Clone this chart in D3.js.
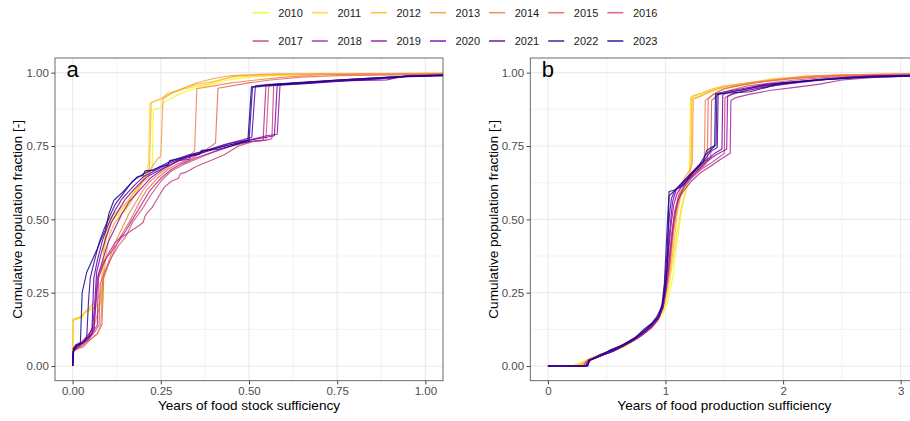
<!DOCTYPE html>
<html><head><meta charset="utf-8">
<script src="https://cdn.jsdelivr.net/npm/d3@7"></script>
<style>body{margin:0;background:#fff}svg{display:block;font-family:"Liberation Sans",Arial,sans-serif}</style>
</head><body><svg id="c" width="910" height="421"></svg>
<script>
const years = [2010,2011,2012,2013,2014,2015,2016,2017,2018,2019,2020,2021,2022,2023];
const yTicks = [0,0.25,0.5,0.75,1];
const xTicksA = [0,0.25,0.5,0.75,1];
const xTicksB = [0,1,2,3];
const yTitle = "Cumulative population fraction [-]";
const xTitleA = "Years of food stock sufficiency";
const xTitleB = "Years of food production sufficiency";

// panel a: years of food stock sufficiency -> cumulative population fraction
const stockSeries = [
 [[0,0],[0.001,0.155],[0.012,0.16],[0.027,0.165],[0.033,0.18],[0.05,0.19],[0.07,0.2],[0.086,0.22],[0.09,0.43],[0.1,0.47],[0.115,0.5],[0.135,0.52],[0.15,0.525],[0.155,0.55],[0.16,0.57],[0.19,0.62],[0.21,0.655],[0.226,0.675],[0.229,0.875],[0.25,0.88],[0.26,0.9],[0.29,0.92],[0.33,0.94],[0.38,0.955],[0.44,0.975],[0.5,0.985],[0.6,0.992],[0.8,0.996],[1.1,0.998]],
 [[0,0],[0.001,0.16],[0.015,0.165],[0.028,0.17],[0.035,0.185],[0.06,0.2],[0.082,0.215],[0.085,0.3],[0.09,0.4],[0.1,0.46],[0.108,0.5],[0.13,0.52],[0.15,0.55],[0.18,0.6],[0.205,0.645],[0.215,0.69],[0.219,0.895],[0.24,0.905],[0.28,0.93],[0.32,0.945],[0.38,0.96],[0.45,0.985],[0.55,0.99],[0.7,0.995],[1.1,0.998]],
 [[0,0],[0.001,0.155],[0.01,0.16],[0.025,0.17],[0.04,0.19],[0.065,0.22],[0.08,0.25],[0.084,0.33],[0.09,0.42],[0.098,0.49],[0.11,0.51],[0.13,0.53],[0.155,0.56],[0.18,0.6],[0.2,0.64],[0.218,0.675],[0.223,0.9],[0.25,0.91],[0.27,0.93],[0.3,0.94],[0.35,0.96],[0.4,0.97],[0.47,0.99],[0.6,0.995],[1.1,0.998]],
 [[0,0],[0.002,0.06],[0.02,0.075],[0.04,0.1],[0.06,0.13],[0.075,0.2],[0.085,0.28],[0.095,0.38],[0.105,0.45],[0.12,0.49],[0.14,0.52],[0.16,0.55],[0.18,0.59],[0.2,0.63],[0.215,0.64],[0.22,0.67],[0.24,0.705],[0.25,0.715],[0.256,0.91],[0.28,0.93],[0.31,0.945],[0.35,0.965],[0.4,0.98],[0.45,0.99],[0.55,0.995],[1.1,0.998]],
 [[0,0],[0.003,0.05],[0.03,0.07],[0.05,0.09],[0.07,0.11],[0.08,0.14],[0.085,0.29],[0.1,0.35],[0.12,0.42],[0.14,0.47],[0.16,0.52],[0.18,0.56],[0.2,0.6],[0.22,0.63],[0.25,0.66],[0.28,0.685],[0.31,0.705],[0.34,0.725],[0.346,0.735],[0.352,0.945],[0.4,0.955],[0.45,0.965],[0.52,0.975],[0.6,0.985],[0.7,0.993],[1.1,0.997]],
 [[0,0],[0.003,0.055],[0.03,0.065],[0.05,0.09],[0.07,0.11],[0.083,0.14],[0.088,0.3],[0.1,0.34],[0.12,0.4],[0.14,0.45],[0.165,0.5],[0.19,0.56],[0.21,0.6],[0.24,0.64],[0.27,0.67],[0.3,0.69],[0.34,0.71],[0.37,0.73],[0.405,0.76],[0.412,0.947],[0.45,0.955],[0.5,0.965],[0.56,0.975],[0.65,0.985],[0.75,0.99],[1.1,0.995]],
 [[0,0],[0.003,0.055],[0.025,0.07],[0.045,0.09],[0.065,0.12],[0.075,0.14],[0.078,0.28],[0.09,0.32],[0.11,0.37],[0.13,0.41],[0.15,0.44],[0.17,0.49],[0.2,0.54],[0.22,0.58],[0.25,0.63],[0.28,0.665],[0.32,0.69],[0.36,0.71],[0.4,0.73],[0.45,0.75],[0.5,0.765],[0.548,0.77],[0.556,0.955],[0.6,0.96],[0.7,0.97],[0.8,0.978],[0.9,0.985],[1.0,0.99],[1.1,0.993]],
 [[0,0],[0.003,0.06],[0.02,0.075],[0.04,0.1],[0.06,0.13],[0.068,0.25],[0.075,0.32],[0.09,0.36],[0.11,0.39],[0.14,0.44],[0.165,0.46],[0.19,0.48],[0.2,0.49],[0.205,0.51],[0.21,0.52],[0.225,0.54],[0.24,0.57],[0.26,0.61],[0.28,0.63],[0.3,0.64],[0.305,0.655],[0.32,0.66],[0.35,0.68],[0.39,0.7],[0.43,0.72],[0.47,0.75],[0.51,0.765],[0.55,0.77],[0.565,0.775],[0.57,0.96],[0.62,0.965],[0.75,0.975],[0.85,0.98],[0.95,0.988],[1.1,0.993]],
 [[0,0],[0.003,0.055],[0.025,0.075],[0.045,0.09],[0.06,0.12],[0.07,0.14],[0.073,0.3],[0.085,0.34],[0.1,0.38],[0.12,0.42],[0.145,0.45],[0.17,0.5],[0.19,0.54],[0.22,0.6],[0.25,0.64],[0.28,0.67],[0.31,0.69],[0.35,0.71],[0.4,0.73],[0.45,0.75],[0.5,0.765],[0.54,0.77],[0.548,0.958],[0.6,0.962],[0.7,0.97],[0.8,0.978],[0.9,0.984],[1.0,0.99],[1.1,0.993]],
 [[0,0],[0.002,0.05],[0.02,0.07],[0.04,0.09],[0.06,0.12],[0.065,0.2],[0.07,0.3],[0.085,0.36],[0.1,0.42],[0.12,0.47],[0.14,0.52],[0.16,0.56],[0.19,0.6],[0.22,0.64],[0.26,0.675],[0.3,0.7],[0.33,0.705],[0.335,0.72],[0.35,0.72],[0.4,0.74],[0.45,0.76],[0.5,0.77],[0.55,0.785],[0.58,0.79],[0.588,0.96],[0.65,0.965],[0.75,0.972],[0.85,0.978],[0.9,0.98],[0.95,0.99],[1.1,0.993]],
 [[0,0],[0.002,0.05],[0.015,0.07],[0.035,0.085],[0.055,0.11],[0.062,0.2],[0.068,0.32],[0.08,0.38],[0.095,0.44],[0.11,0.49],[0.13,0.53],[0.15,0.57],[0.18,0.61],[0.21,0.645],[0.25,0.67],[0.3,0.7],[0.34,0.715],[0.4,0.74],[0.45,0.755],[0.5,0.77],[0.55,0.78],[0.572,0.785],[0.58,0.958],[0.65,0.963],[0.75,0.972],[0.89,0.975],[0.94,0.988],[1.1,0.992]],
 [[0,0],[0.002,0.05],[0.01,0.07],[0.03,0.08],[0.045,0.1],[0.055,0.13],[0.06,0.3],[0.07,0.36],[0.085,0.43],[0.1,0.48],[0.12,0.53],[0.14,0.57],[0.17,0.61],[0.2,0.645],[0.24,0.67],[0.28,0.695],[0.33,0.715],[0.38,0.735],[0.43,0.755],[0.48,0.77],[0.508,0.78],[0.518,0.955],[0.56,0.96],[0.65,0.965],[0.75,0.973],[0.85,0.98],[0.95,0.988],[1.1,0.992]],
 [[0,0],[0.002,0.06],[0.01,0.07],[0.03,0.08],[0.04,0.1],[0.045,0.22],[0.05,0.3],[0.06,0.35],[0.075,0.42],[0.09,0.47],[0.105,0.51],[0.12,0.55],[0.145,0.59],[0.17,0.63],[0.2,0.655],[0.24,0.675],[0.28,0.7],[0.33,0.72],[0.38,0.735],[0.43,0.75],[0.48,0.762],[0.5,0.765],[0.51,0.95],[0.55,0.955],[0.65,0.962],[0.75,0.97],[0.85,0.978],[0.95,0.986],[1.1,0.99]],
 [[0,0],[0.002,0.05],[0.008,0.072],[0.022,0.08],[0.027,0.25],[0.04,0.32],[0.055,0.36],[0.07,0.4],[0.08,0.43],[0.093,0.465],[0.103,0.52],[0.117,0.565],[0.14,0.59],[0.155,0.61],[0.183,0.645],[0.2,0.65],[0.205,0.665],[0.23,0.668],[0.249,0.68],[0.27,0.685],[0.275,0.7],[0.306,0.708],[0.343,0.72],[0.36,0.722],[0.365,0.735],[0.41,0.738],[0.45,0.75],[0.485,0.765],[0.497,0.77],[0.507,0.952],[0.55,0.958],[0.6,0.962],[0.75,0.975],[0.9,0.985],[1.0,0.99],[1.1,0.993]]
];

// panel b: years of food production sufficiency -> cumulative population fraction
const prodSeries = [
 [[0,0],[0.2,0],[0.26,0.01],[0.3,0.015],[0.35,0.025],[0.45,0.035],[0.55,0.05],[0.65,0.065],[0.75,0.09],[0.85,0.12],[0.93,0.15],[0.98,0.18],[1.02,0.22],[1.06,0.3],[1.09,0.4],[1.12,0.48],[1.14,0.54],[1.17,0.59],[1.2,0.63],[1.215,0.66],[1.222,0.91],[1.26,0.915],[1.35,0.93],[1.45,0.94],[1.6,0.952],[1.8,0.968],[2.0,0.978],[2.3,0.988],[2.6,0.992],[3.3,0.996]],
 [[0,0],[0.22,0],[0.3,0.012],[0.35,0.025],[0.45,0.04],[0.55,0.05],[0.65,0.07],[0.75,0.095],[0.85,0.125],[0.93,0.155],[0.98,0.19],[1.01,0.23],[1.04,0.3],[1.07,0.38],[1.1,0.46],[1.13,0.53],[1.16,0.58],[1.19,0.63],[1.205,0.665],[1.212,0.915],[1.25,0.92],[1.35,0.935],[1.45,0.945],[1.6,0.955],[1.8,0.97],[2.0,0.98],[2.3,0.988],[2.6,0.993],[3.3,0.996]],
 [[0,0],[0.25,0],[0.3,0.01],[0.35,0.025],[0.45,0.04],[0.55,0.055],[0.65,0.075],[0.75,0.1],[0.85,0.13],[0.93,0.16],[0.97,0.19],[1.0,0.23],[1.03,0.3],[1.06,0.38],[1.08,0.45],[1.1,0.52],[1.13,0.58],[1.17,0.62],[1.2,0.65],[1.218,0.68],[1.225,0.92],[1.3,0.93],[1.4,0.945],[1.5,0.955],[1.7,0.965],[1.9,0.978],[2.2,0.988],[2.5,0.993],[3.3,0.997]],
 [[0,0],[0.28,0],[0.32,0.015],[0.36,0.025],[0.45,0.04],[0.55,0.055],[0.65,0.07],[0.75,0.095],[0.85,0.125],[0.92,0.155],[0.97,0.19],[1.0,0.24],[1.03,0.31],[1.05,0.38],[1.07,0.46],[1.09,0.53],[1.12,0.6],[1.16,0.64],[1.2,0.665],[1.228,0.69],[1.236,0.91],[1.3,0.92],[1.4,0.94],[1.5,0.952],[1.7,0.965],[1.9,0.975],[2.2,0.988],[2.5,0.993],[3.3,0.997]],
 [[0,0],[0.3,0],[0.33,0.015],[0.38,0.025],[0.47,0.04],[0.57,0.055],[0.67,0.075],[0.77,0.095],[0.86,0.125],[0.93,0.16],[0.97,0.2],[1.0,0.25],[1.03,0.32],[1.05,0.4],[1.07,0.47],[1.1,0.54],[1.13,0.59],[1.17,0.62],[1.22,0.65],[1.27,0.67],[1.32,0.69],[1.33,0.7],[1.338,0.905],[1.4,0.925],[1.5,0.945],[1.6,0.955],[1.8,0.968],[2.0,0.978],[2.3,0.988],[2.6,0.993],[3.3,0.996]],
 [[0,0],[0.3,0],[0.34,0.02],[0.4,0.03],[0.5,0.045],[0.6,0.06],[0.7,0.08],[0.8,0.105],[0.88,0.135],[0.94,0.165],[0.98,0.21],[1.01,0.27],[1.03,0.33],[1.05,0.41],[1.07,0.48],[1.1,0.55],[1.14,0.6],[1.18,0.63],[1.24,0.66],[1.3,0.68],[1.355,0.7],[1.363,0.91],[1.42,0.93],[1.5,0.945],[1.65,0.958],[1.85,0.97],[2.1,0.98],[2.4,0.988],[2.8,0.993],[3.3,0.996]],
 [[0,0],[0.3,0],[0.34,0.02],[0.4,0.03],[0.5,0.045],[0.6,0.06],[0.7,0.08],[0.8,0.105],[0.88,0.13],[0.94,0.16],[0.98,0.2],[1.0,0.26],[1.02,0.33],[1.04,0.4],[1.06,0.47],[1.08,0.53],[1.11,0.58],[1.15,0.61],[1.2,0.64],[1.26,0.66],[1.32,0.68],[1.385,0.71],[1.392,0.905],[1.45,0.925],[1.55,0.94],[1.7,0.955],[1.9,0.965],[2.1,0.975],[2.4,0.985],[2.8,0.99],[3.3,0.994]],
 [[0,0],[0.32,0],[0.35,0.02],[0.42,0.03],[0.52,0.05],[0.62,0.065],[0.72,0.085],[0.8,0.11],[0.88,0.135],[0.94,0.165],[0.98,0.2],[1.0,0.25],[1.02,0.32],[1.04,0.4],[1.06,0.47],[1.08,0.53],[1.11,0.57],[1.16,0.61],[1.22,0.64],[1.3,0.67],[1.38,0.69],[1.45,0.71],[1.5,0.725],[1.506,0.915],[1.56,0.925],[1.65,0.935],[1.8,0.948],[2.0,0.96],[2.3,0.975],[2.6,0.985],[3.0,0.99],[3.3,0.993]],
 [[0,0],[0.32,0],[0.35,0.02],[0.42,0.03],[0.52,0.045],[0.62,0.065],[0.72,0.085],[0.8,0.105],[0.88,0.13],[0.94,0.16],[0.98,0.2],[1.0,0.25],[1.02,0.31],[1.04,0.38],[1.06,0.46],[1.08,0.52],[1.11,0.57],[1.16,0.6],[1.22,0.63],[1.3,0.66],[1.38,0.68],[1.45,0.7],[1.55,0.725],[1.556,0.905],[1.6,0.915],[1.7,0.925],[1.9,0.94],[2.1,0.95],[2.3,0.96],[2.5,0.975],[2.8,0.985],[3.3,0.99]],
 [[0,0],[0.32,0],[0.35,0.02],[0.42,0.03],[0.52,0.05],[0.62,0.07],[0.72,0.09],[0.8,0.11],[0.88,0.135],[0.94,0.165],[0.975,0.2],[0.995,0.26],[1.015,0.34],[1.03,0.41],[1.05,0.49],[1.07,0.55],[1.1,0.59],[1.15,0.62],[1.21,0.64],[1.28,0.67],[1.36,0.7],[1.43,0.72],[1.5,0.735],[1.52,0.74],[1.528,0.92],[1.58,0.93],[1.7,0.94],[1.9,0.955],[2.1,0.965],[2.4,0.978],[2.7,0.987],[3.3,0.992]],
 [[0,0],[0.33,0],[0.36,0.02],[0.45,0.035],[0.55,0.05],[0.65,0.07],[0.75,0.095],[0.83,0.12],[0.9,0.145],[0.95,0.17],[0.98,0.21],[1.0,0.27],[1.015,0.35],[1.03,0.43],[1.045,0.5],[1.06,0.56],[1.09,0.6],[1.14,0.625],[1.2,0.65],[1.27,0.675],[1.34,0.7],[1.42,0.725],[1.48,0.74],[1.487,0.925],[1.55,0.935],[1.7,0.945],[1.9,0.958],[2.1,0.968],[2.4,0.98],[2.7,0.988],[3.3,0.992]],
 [[0,0],[0.33,0],[0.36,0.02],[0.45,0.035],[0.55,0.05],[0.65,0.07],[0.75,0.095],[0.83,0.12],[0.9,0.15],[0.95,0.175],[0.98,0.22],[0.995,0.29],[1.01,0.37],[1.02,0.45],[1.035,0.52],[1.05,0.57],[1.08,0.6],[1.13,0.62],[1.2,0.65],[1.27,0.68],[1.33,0.7],[1.38,0.73],[1.44,0.745],[1.448,0.93],[1.5,0.935],[1.65,0.945],[1.85,0.96],[2.1,0.97],[2.4,0.98],[2.8,0.988],[3.3,0.992]],
 [[0,0],[0.33,0],[0.355,0.02],[0.45,0.04],[0.55,0.055],[0.65,0.075],[0.75,0.1],[0.83,0.125],[0.9,0.15],[0.94,0.17],[0.97,0.21],[0.99,0.28],[1.0,0.36],[1.01,0.44],[1.02,0.52],[1.03,0.58],[1.07,0.595],[1.13,0.615],[1.2,0.645],[1.28,0.68],[1.34,0.72],[1.42,0.75],[1.43,0.755],[1.436,0.925],[1.5,0.93],[1.65,0.94],[1.8,0.955],[2.0,0.965],[2.3,0.975],[2.7,0.985],[3.3,0.99]],
 [[0,0],[0.34,0],[0.35,0.02],[0.45,0.035],[0.53,0.055],[0.63,0.07],[0.74,0.095],[0.81,0.123],[0.88,0.145],[0.925,0.168],[0.967,0.2],[0.996,0.26],[1.012,0.33],[1.02,0.4],[1.025,0.5],[1.03,0.595],[1.08,0.6],[1.151,0.616],[1.236,0.661],[1.32,0.696],[1.35,0.735],[1.418,0.752],[1.425,0.928],[1.5,0.93],[1.72,0.935],[1.97,0.962],[2.3,0.975],[2.7,0.985],[3.3,0.99]]
];

const svg = d3.select("#c");
const color = d3.scaleOrdinal().domain(years).range(years.map((d,i)=>d3.interpolatePlasma(1 - i/(years.length-1))));
const y = d3.scaleLinear().domain([-0.05,1.05]).range([380.7,58]);
const fmt2 = d3.format(".2f");

function panel(id, left, right, xDomain, xTicks, xMinor, xFmt, series, xTitle, letter){
  const top = 58, bottom = 380.7;
  const x = d3.scaleLinear().domain(xDomain).range([left,right]);
  const g = svg.append("g");
  g.append("clipPath").attr("id","clip"+id).append("rect")
    .attr("x",left).attr("y",top).attr("width",right-left).attr("height",bottom-top);
  const grid = g.append("g").attr("clip-path","url(#clip"+id+")");
  const yMinor = [0.125,0.375,0.625,0.875];
  grid.selectAll(".ymn").data(yMinor).join("line").attr("x1",left).attr("x2",right)
    .attr("y1",d=>y(d)).attr("y2",d=>y(d)).attr("stroke","#EBEBEB").attr("stroke-width",0.6);
  grid.selectAll(".xmn").data(xMinor).join("line").attr("y1",top).attr("y2",bottom)
    .attr("x1",d=>x(d)).attr("x2",d=>x(d)).attr("stroke","#EBEBEB").attr("stroke-width",0.6);
  grid.selectAll(".ymj").data(yTicks).join("line").attr("x1",left).attr("x2",right)
    .attr("y1",d=>y(d)).attr("y2",d=>y(d)).attr("stroke","#EBEBEB").attr("stroke-width",1.2);
  grid.selectAll(".xmj").data(xTicks).join("line").attr("y1",top).attr("y2",bottom)
    .attr("x1",d=>x(d)).attr("x2",d=>x(d)).attr("stroke","#EBEBEB").attr("stroke-width",1.2);

  const line = d3.line().x(d=>x(d[0])).y(d=>y(d[1]));
  const lines = g.append("g").attr("clip-path","url(#clip"+id+")");
  series.forEach((s,i)=>{
    lines.append("path").attr("d",line(s)).attr("fill","none")
      .attr("stroke",color(years[i])).attr("stroke-opacity",0.85).attr("stroke-width",1.15)
      .attr("stroke-linejoin","round");
  });
  g.append("rect").attr("x",left).attr("y",top).attr("width",right-left).attr("height",bottom-top)
    .attr("fill","none").attr("stroke","#333333").attr("stroke-width",0.9).attr("stroke-opacity",0.8);

  // axes
  const xAxis = d3.axisBottom(x).tickValues(xTicks).tickFormat(xFmt).tickSize(3.7).tickPadding(2.5);
  const ax = g.append("g").attr("transform",`translate(0,${bottom})`).call(xAxis);
  const yAxis = d3.axisLeft(y).tickValues(yTicks).tickFormat(fmt2).tickSize(3.7).tickPadding(2.5);
  const ay = g.append("g").attr("transform",`translate(${left},0)`).call(yAxis);
  [ax,ay].forEach(a=>{
    a.select(".domain").remove();
    a.selectAll(".tick line").attr("stroke","#333333").attr("stroke-width",0.9);
    a.selectAll(".tick text").attr("fill","#4D4D4D").style("font-size","11.5px")
      .style("font-family",'"Liberation Sans",Arial,sans-serif');
  });
  g.append("text").attr("x",(left+right)/2).attr("y",409.5).attr("text-anchor","middle")
    .style("font-size","13.6px").attr("fill","#000").text(xTitle);
  const ytx = left - 37.5;
  g.append("text").attr("transform",`translate(${ytx},${(top+bottom)/2}) rotate(-90)`)
    .attr("text-anchor","middle").attr("dy","0.35em").style("font-size","13.6px").attr("fill","#000").text(yTitle);
  g.append("text").attr("x",left+11.5).attr("y",77.3).style("font-size","22px").attr("fill","#000").text(letter);
}

panel("a", 55, 443, [-0.05,1.05], xTicksA, [0.125,0.375,0.625,0.875], fmt2, stockSeries, xTitleA, "a");
panel("b", 530.3, 918.3, [-0.15,3.15], xTicksB, [0.5,1.5,2.5], d3.format("d"), prodSeries, xTitleB, "b");

// legend
const leg = svg.append("g");
years.forEach((yr,i)=>{
  const row = Math.floor(i/7), col = i%7;
  const kx = 252.7 + col*59.1, ky = row ? 41 : 12.7;
  leg.append("line").attr("x1",kx).attr("x2",kx+16).attr("y1",ky).attr("y2",ky)
    .attr("stroke",color(yr)).attr("stroke-opacity",0.85).attr("stroke-width",1.6);
  leg.append("text").attr("x",kx+25.6).attr("y",ky+4).style("font-size","11px").attr("fill","#1a1a1a").text(yr);
});
</script></body></html>
